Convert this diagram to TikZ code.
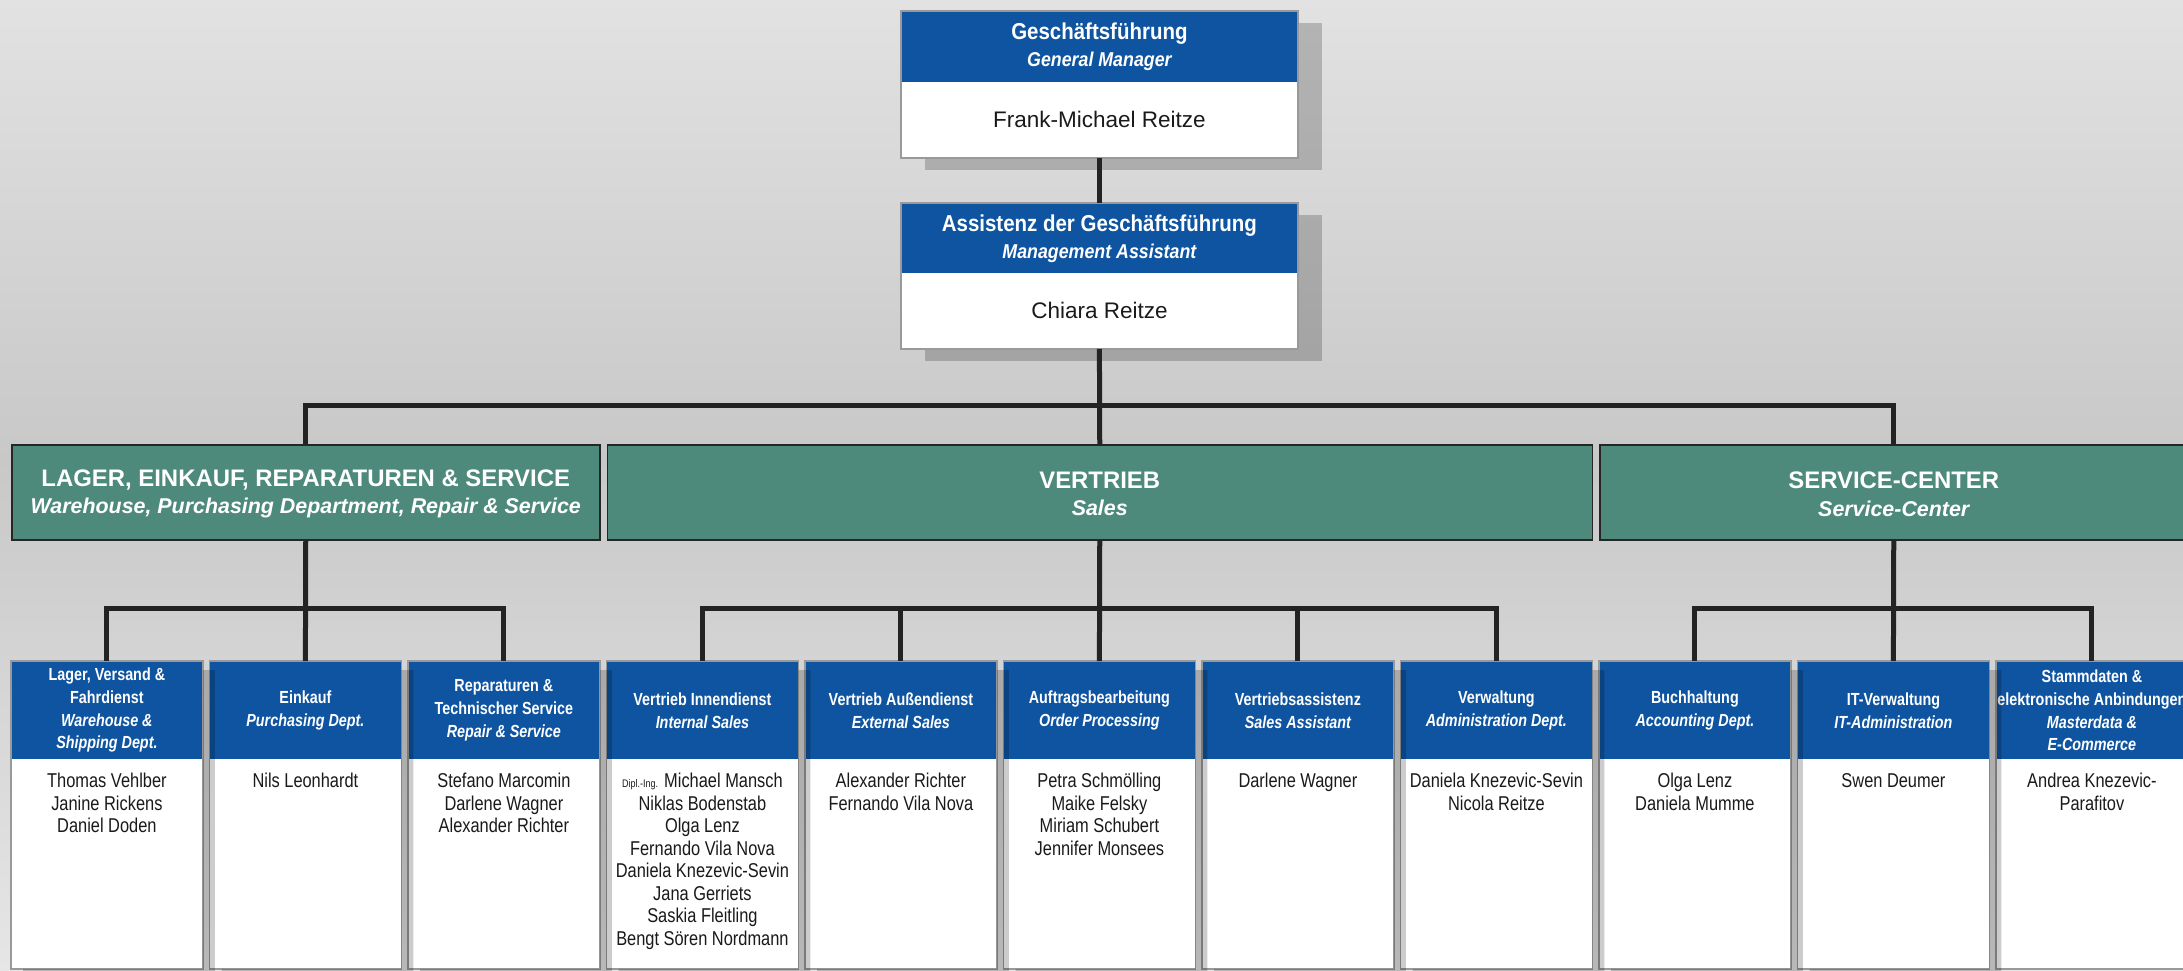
\documentclass[tikz,border=0pt]{standalone}
\usepackage{fontspec}
\setmainfont{Liberation Sans}
\newfontfamily\nar[FakeStretch=0.82]{Liberation Sans}
\newfontfamily\topf[FakeStretch=0.89]{Liberation Sans}
\usetikzlibrary{calc}
\definecolor{hblue}{HTML}{0E54A0}
\definecolor{dgreen}{HTML}{4E8A7C}
\definecolor{bordc}{HTML}{999999}
\definecolor{linec}{HTML}{232323}
\definecolor{txt}{HTML}{1A1A1A}
\definecolor{bgtop}{HTML}{E2E2E2}
\definecolor{bgmid}{HTML}{C8C8C8}
\definecolor{bgbot}{HTML}{E6E6E6}
\tikzset{
  hdr/.style={rectangle, fill=hblue, inner sep=0, minimum width=95.5pt, minimum height=49pt, anchor=north west},
  body/.style={rectangle, fill=white, inner sep=0, minimum width=95.5pt, minimum height=104.5pt, anchor=north west},
  htext/.style={text=white, align=center, inner sep=0, font=\nar\bfseries\fontsize{8.75}{11.35}\selectfont},
  ntext/.style={text=txt, align=center, inner sep=0, anchor=north, font=\nar\fontsize{10}{11.25}\selectfont},
  thdr/.style={rectangle, fill=hblue, inner sep=0, minimum width=198pt, minimum height=35.5pt, anchor=north west},
  tbody/.style={rectangle, fill=white, inner sep=0, minimum width=198pt, minimum height=37.5pt, anchor=north west},
  tht/.style={text=white, align=center, inner sep=0, font=\topf\bfseries\fontsize{11.5}{13.5}\selectfont},
  tnt/.style={text=txt, inner sep=0, font=\fontsize{11.25}{13}\selectfont},
  gbox/.style={rectangle, fill=dgreen, draw=black!85, line width=0.75pt, inner sep=0, minimum height=47.5pt, anchor=north west},
  gtext/.style={text=white, align=center, inner sep=0, font=\bfseries\fontsize{11.95}{13.5}\selectfont},
  conn/.style={draw=linec, line width=2.5pt},
  bord/.style={draw=bordc, line width=0.75pt},
  shad/.style={fill=black, opacity=0.2}
}
\newcommand\shadowL[4]{%
  \fill[shad] ($(#1.north east)+(0,#4)$) -- ($(#1.north east)+(#3,#4)$)
    -- ($(#2.south east)+(#3,#4)$) -- ($(#2.south west)+(#3,#4)$)
    -- ($(#2.south west)+(#3,0)$) -- (#2.south east) -- cycle;}
\newcommand\dept[4]{%
  \node[hdr] (#1) at (#2,661) {};
  \node[body] (#1b) at (#2,759) {};
  \draw[bord] (#1.north west) rectangle (#1b.south east);
  \node[htext] (#1t) at (#1.center) {#3};
  \node[ntext] (#1n) at ($(#1b.north)+(0,14)$) {#4};}
\begin{document}
\begin{tikzpicture}[x=0.5pt,y=-0.5pt]
\useasboundingbox (0,0) rectangle (2183,970);
\shade[top color=bgtop, bottom color=bgmid] (0,-1) rectangle (2183,460);
\shade[top color=bgmid, bottom color=bgbot] (0,459) rectangle (2183,971);

% top boxes
\node[thdr] (gf) at (901,11) {};
\node[tbody] (gfb) at (901,82) {};
\node[thdr, minimum height=35pt] (ass) at (901,203) {};
\node[tbody] (assb) at (901,273) {};
\shadowL{gf}{gfb}{24}{12}
\shadowL{ass}{assb}{24}{12}
\draw[bord] (gf.north west) rectangle (gfb.south east);
\draw[bord] (ass.north west) rectangle (assb.south east);
\node[tht] (gft) at (gf.center) {Geschäftsführung\\{\fontsize{10}{13.5}\selectfont\itshape General Manager}};
\node[tnt] (gfn) at (gfb.center) {Frank-Michael Reitze};
\node[tht] (asst) at (ass.center) {Assistenz der Geschäftsführung\\{\fontsize{10}{13.5}\selectfont\itshape Management Assistant}};
\node[tnt] (assn) at (assb.center) {Chiara Reitze};

% level 2
\node[gbox, minimum width=294pt] (lager) at (11,444) {};
\node[gbox, minimum width=492.5pt] (vert) at (606.5,444) {};
\node[gbox, minimum width=294pt] (svc) at (1599,444) {};
\node[gtext] (lagert) at ($(lager.center)+(0,2)$) {LAGER, EINKAUF, REPARATUREN \& SERVICE\\{\fontsize{10.7}{13.5}\selectfont\itshape Warehouse, Purchasing Department, Repair \& Service}};
\node[gtext] (vertt) at ($(vert.center)+(0,2)$) {VERTRIEB\\{\fontsize{10.7}{13.5}\selectfont\itshape Sales}};
\node[gtext] (svct) at ($(svc.center)+(0,2)$) {SERVICE-CENTER\\{\fontsize{10.7}{13.5}\selectfont\itshape Service-Center}};

% level 3
\dept{d1}{11}{Lager, Versand \&\\Fahrdienst\\\itshape Warehouse \&\\\itshape Shipping Dept.}{Thomas Vehlber\\Janine Rickens\\Daniel Doden}
\dept{d2}{209.5}{Einkauf\\\itshape Purchasing Dept.}{Nils Leonhardt}
\dept{d3}{408}{Reparaturen \&\\Technischer Service\\\itshape Repair \& Service}{Stefano Marcomin\\Darlene Wagner\\Alexander Richter}
\dept{d4}{606.5}{Vertrieb Innendienst\\\itshape Internal Sales}{{\fontsize{5.5}{6}\selectfont Dipl.-Ing.} Michael Mansch\\Niklas Bodenstab\\Olga Lenz\\Fernando Vila Nova\\Daniela Knezevic-Sevin\\Jana Gerriets\\Saskia Fleitling\\Bengt Sören Nordmann}
\dept{d5}{805}{Vertrieb Außendienst\\\itshape External Sales}{Alexander Richter\\Fernando Vila Nova}
\dept{d6}{1003.5}{Auftragsbearbeitung\\\itshape Order Processing}{Petra Schmölling\\Maike Felsky\\Miriam Schubert\\Jennifer Monsees}
\dept{d7}{1202}{Vertriebsassistenz\\\itshape Sales Assistant}{Darlene Wagner}
\dept{d8}{1400.5}{Verwaltung\\\itshape Administration Dept.}{Daniela Knezevic-Sevin\\Nicola Reitze}
\dept{d9}{1599}{Buchhaltung\\\itshape Accounting Dept.}{Olga Lenz\\Daniela Mumme}
\dept{d10}{1797.5}{IT-Verwaltung\\\itshape IT-Administration}{Swen Deumer}
\dept{d11}{1996}{Stammdaten \&\\elektronische Anbindungen\\\itshape Masterdata \&\\\itshape E-Commerce}{Andrea Knezevic-\\Parafitov}

\foreach \i in {1,...,10} {\shadowL{d\i}{d\i b}{12}{9}}

% connectors
\coordinate (bus) at (1099,405);
\coordinate (bl) at (0,608);
\draw[conn] (gfb.south) -- (ass.north);
\draw[conn] (assb.south) -- (vert.north);
\draw[conn] (assb.south |- bus) -| (lager.north);
\draw[conn] (assb.south |- bus) -| (svc.north);
\draw[conn] (lager.south) -- (d2.north);
\draw[conn] (lager.south |- bl) -| (d1.north);
\draw[conn] (lager.south |- bl) -| (d3.north);
\draw[conn] (vert.south) -- (d6.north);
\draw[conn] (vert.south |- bl) -| (d4.north);
\draw[conn] (vert.south |- bl) -| (d5.north);
\draw[conn] (vert.south |- bl) -| (d7.north);
\draw[conn] (vert.south |- bl) -| (d8.north);
\draw[conn] (svc.south) -- (d10.north);
\draw[conn] (svc.south |- bl) -| (d9.north);
\draw[conn] (svc.south |- bl) -| (d11.north);
\end{tikzpicture}
\end{document}
